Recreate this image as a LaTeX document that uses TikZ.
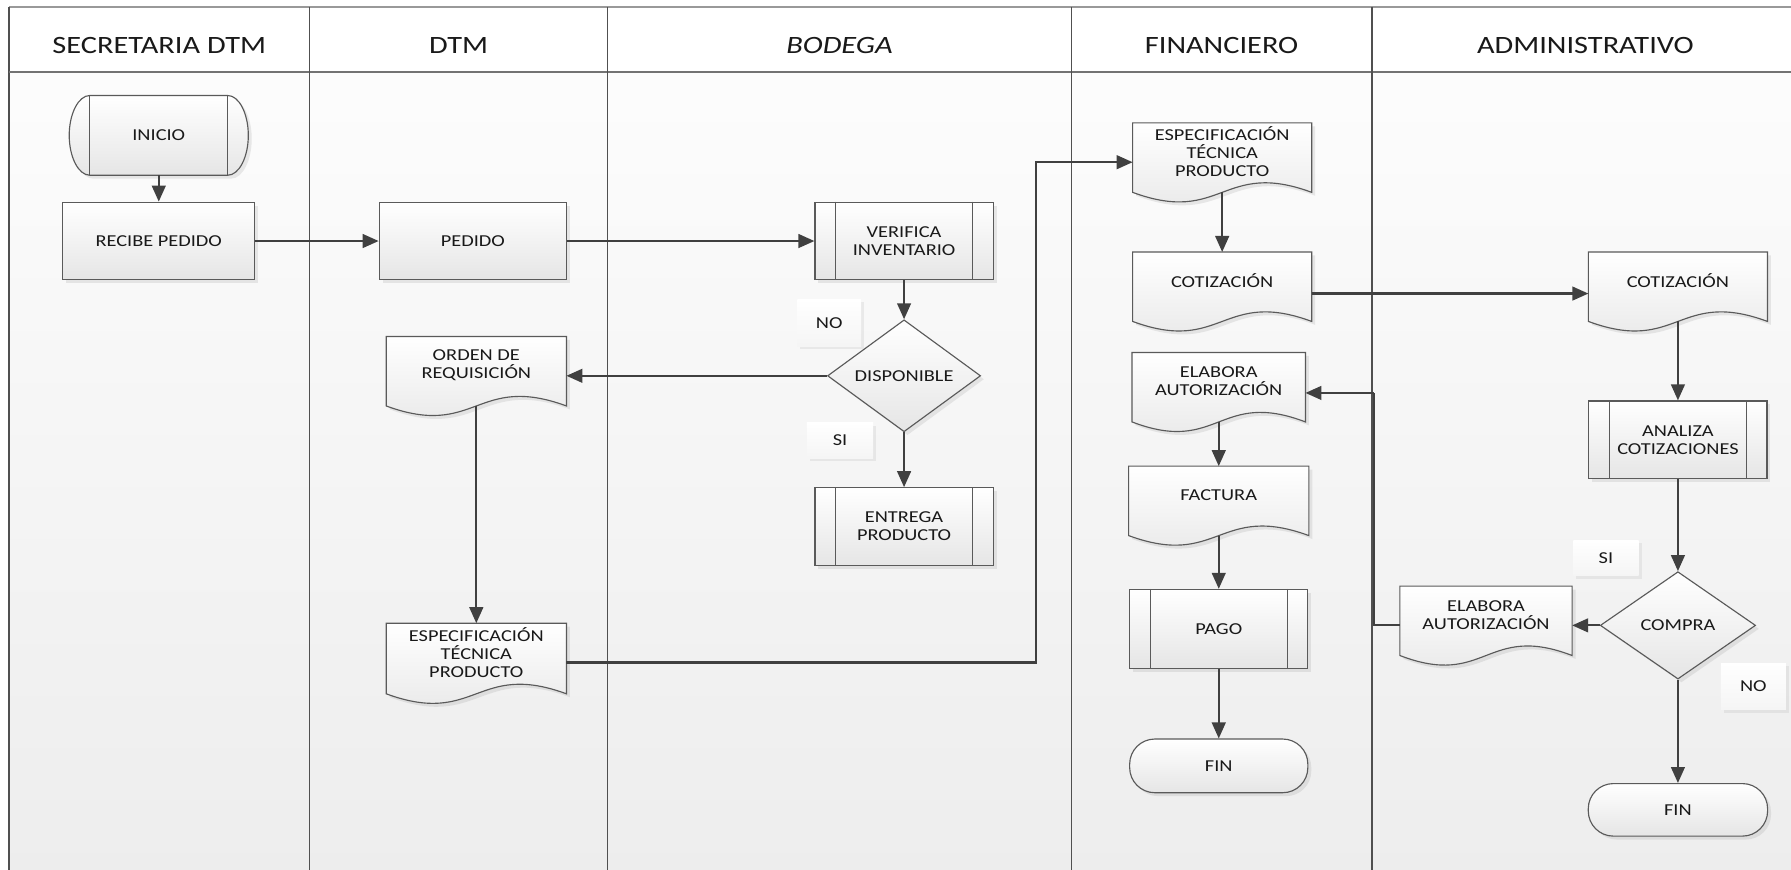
\documentclass[tikz,border=0pt]{standalone}
\usepackage{fontspec}
\setmainfont{Carlito}[FakeStretch=1.22]
\usetikzlibrary{arrows.meta,shapes.geometric,shadows,calc}
\pgfdeclarelayer{lanes}
\pgfdeclarelayer{shapes}
\pgfsetlayers{lanes,shapes,main}
\definecolor{ink}{HTML}{404040}
\definecolor{edge}{HTML}{5A5A5A}
\definecolor{rule}{HTML}{505050}
\newcommand\nodefont{\fontsize{7.3pt}{7.9pt}\selectfont}
\newcommand\lanefont{\fontsize{10.9pt}{12.5pt}\selectfont}
\tikzset{
  boxfill/.style={top color=white, bottom color=black!10, draw=edge, line width=0.5pt},
  softshadow/.style={drop shadow={shadow xshift=1.5pt, shadow yshift=-1.5pt, opacity=0.16}},
  boxsize/.style 2 args={minimum width=#1*0.5pt, minimum height=#2*0.5pt},
  txt/.style={font=\nodefont, align=center, inner sep=0pt, text=black!90},
  procbox/.style={txt, rectangle, boxfill, softshadow},
  decision/.style={txt, diamond, shape aspect=1.4, boxfill, softshadow},
  endcap/.style={txt, rectangle, rounded corners=11pt, boxfill, softshadow},
  notebox/.style={txt, rectangle, top color=white, bottom color=black!4,
    drop shadow={shadow xshift=1.3pt, shadow yshift=-1.3pt, opacity=0.12}},
  lanehead/.style={font=\lanefont, text=black!90, inner sep=0pt},
  flow/.style={draw=ink, line width=0.95pt, -{Triangle[length=7pt,width=6pt]}},
}
% document symbol: flat top, straight sides, wavy bottom below the text box
\newcommand\docshape[1]{%
  \begin{pgfonlayer}{shapes}
  \path[boxfill, softshadow] (#1.north west) -- (#1.north east) -- ([yshift=-5pt]#1.south east)
    .. controls ([yshift=9.5pt]#1.south) and ([yshift=-19.5pt]#1.south) ..
    ([yshift=-5pt]#1.south west) -- cycle;
  \end{pgfonlayer}}
% predefined-process bars
\newcommand\innerbars[1]{%
  \draw[edge, line width=0.5pt] ($(#1.north west)+(18.5,0)$) -- ($(#1.south west)+(18.5,0)$)
    ($(#1.north east)+(-18.5,0)$) -- ($(#1.south east)+(-18.5,0)$);}
\begin{document}
\begin{tikzpicture}[x=0.5pt,y=-0.5pt]
\useasboundingbox (0,0) rectangle (1568,761.6);

% ---------- swimlanes ----------
\begin{pgfonlayer}{lanes}
  \fill[white] (0,0) rectangle (1568,762);
  \path[top color=black!1, bottom color=black!7] (8,63) rectangle (1568,762);
  \fill[white] (8,6) rectangle (1568,63);
  \draw[black!40, line width=0.8pt] (8,6) -- (1568,6);
  \draw[rule, line width=0.6pt] (8,6) -- (8,762);
  \draw[rule!80, line width=0.6pt] (8,63) -- (1568,63);
  \foreach \xx in {271,532,938,1201}
    \draw[rule, line width=0.6pt] (\xx,6) -- (\xx,762);
\end{pgfonlayer}

\node[lanehead] (h1) at (139.5,40) {SECRETARIA DTM};
\node[lanehead] (h2) at (401.5,40) {DTM};
\node[lanehead, font=\lanefont\itshape] (h3) at (735,40) {BODEGA};
\node[lanehead] (h4) at (1069.5,40) {FINANCIERO};
\node[lanehead] (h5) at (1388,40) {ADMINISTRATIVO};

% ---------- SECRETARIA DTM ----------
\node[txt, boxsize={156}{69}] (inicio) at (139,118.5) {INICIO};
\begin{pgfonlayer}{shapes}
  \path[boxfill, softshadow]
    ($(inicio.north west)+(18,0)$) -- ($(inicio.north east)+(-18,0)$)
    .. controls ($(inicio.north east)+(-8.1,0)$) and ($(inicio.east)+(0,-19)$) .. (inicio.east)
    .. controls ($(inicio.east)+(0,19)$) and ($(inicio.south east)+(-8.1,0)$) .. ($(inicio.south east)+(-18,0)$)
    -- ($(inicio.south west)+(18,0)$)
    .. controls ($(inicio.south west)+(8.1,0)$) and ($(inicio.west)+(0,19)$) .. (inicio.west)
    .. controls ($(inicio.west)+(0,-19)$) and ($(inicio.north west)+(8.1,0)$) .. ($(inicio.north west)+(18,0)$)
    -- cycle;
  \draw[edge, line width=0.5pt] ($(inicio.north west)+(18,0)$) -- ($(inicio.south west)+(18,0)$)
    ($(inicio.north east)+(-18,0)$) -- ($(inicio.south east)+(-18,0)$);
\end{pgfonlayer}
\node[procbox, boxsize={168}{68}] (recibe) at (139,211) {RECIBE PEDIDO};

% ---------- DTM ----------
\node[procbox, boxsize={164}{68}] (pedido) at (414,211) {PEDIDO};
\node[txt, boxsize={157}{50}] (orden) at (417,320) {ORDEN DE\\REQUISICIÓN};
\docshape{orden}
\node[txt, boxsize={157}{51}] (especD) at (417,571.5) {ESPECIFICACIÓN\\TÉCNICA\\PRODUCTO};
\docshape{especD}

% ---------- BODEGA ----------
\node[procbox, boxsize={156}{68}] (verifica) at (791.5,211) {VERIFICA\\INVENTARIO};
\innerbars{verifica}
\node[decision, boxsize={134}{98}] (disp) at (791.5,329) {DISPONIBLE};
\node[procbox, boxsize={156}{68}] (entrega) at (791.5,461) {ENTREGA\\PRODUCTO};
\innerbars{entrega}
\node[notebox, boxsize={56}{41}] (noD) at (726,282.5) {NO};
\node[notebox, boxsize={58}{31}] (siD) at (735.5,385.5) {SI};

% ---------- FINANCIERO ----------
\node[txt, boxsize={156}{50}] (especF) at (1070,133) {ESPECIFICACIÓN\\TÉCNICA\\PRODUCTO};
\docshape{especF}
\node[txt, boxsize={156}{50}] (cotF) at (1070,246) {COTIZACIÓN};
\docshape{cotF}
\node[txt, boxsize={151}{50}] (elabF) at (1067,334) {ELABORA\\AUTORIZACIÓN};
\docshape{elabF}
\node[txt, boxsize={157}{50}] (factura) at (1067,433.5) {FACTURA};
\docshape{factura}
\node[procbox, boxsize={156}{69}] (pago) at (1067,550.5) {PAGO};
\innerbars{pago}
\node[endcap, boxsize={156}{47}] (finF) at (1067,670.5) {FIN};

% ---------- ADMINISTRATIVO ----------
\node[txt, boxsize={156}{50}] (cotA) at (1469,246) {COTIZACIÓN};
\docshape{cotA}
\node[procbox, boxsize={156}{68}] (analiza) at (1469,385) {ANALIZA\\COTIZACIONES};
\innerbars{analiza}
\node[decision, boxsize={136}{94}] (compra) at (1469,547.5) {COMPRA};
\node[txt, boxsize={150}{50}] (elabA) at (1301,538.5) {ELABORA\\AUTORIZACIÓN};
\docshape{elabA}
\node[endcap, boxsize={157}{46}] (finA) at (1469,709) {FIN};
\node[notebox, boxsize={57}{31}] (siC) at (1406,488.5) {SI};
\node[notebox, boxsize={57}{41}] (noC) at (1535,601) {NO};

% ---------- connectors ----------
\coordinate (routeA) at (907,142);
\coordinate (routeB) at (1203,344);
\draw[flow] (inicio.south) -- (recibe.north);
\draw[flow] (recibe.east) -- (pedido.west);
\draw[flow] (pedido.east) -- (verifica.west);
\draw[flow] (verifica.south) -- (disp.north);
\draw[flow] (disp.west) -- (disp.west -| orden.east);
\draw[flow] (disp.south) -- (entrega.north);
\draw[flow] ([yshift=-5pt]orden.south) -- (especD.north);
\draw[flow] ([yshift=-4.25pt]especD.east) -| (routeA) -- (routeA -| especF.west);
\draw[flow] ([yshift=-5pt]especF.south) -- (cotF.north);
\draw[flow] ([yshift=-5.5pt]cotF.east) -- ([yshift=-5.5pt]cotA.west);
\draw[flow] ([yshift=-5pt]cotA.south) -- (analiza.north);
\draw[flow] (analiza.south) -- (compra.north);
\draw[flow] (compra.west) -- (compra.west -| elabA.east);
\draw[line width=0.95pt, draw=ink] (compra.west -| elabA.west) -| (routeB);
\draw[flow] (routeB) -- (routeB -| elabF.east);
\draw[flow] ([yshift=-5pt]elabF.south) -- (factura.north);
\draw[flow] ([yshift=-5pt]factura.south) -- (pago.north);
\draw[flow] (pago.south) -- (finF.north);
\draw[flow] (compra.south) -- (finA.north);
\end{tikzpicture}
\end{document}
